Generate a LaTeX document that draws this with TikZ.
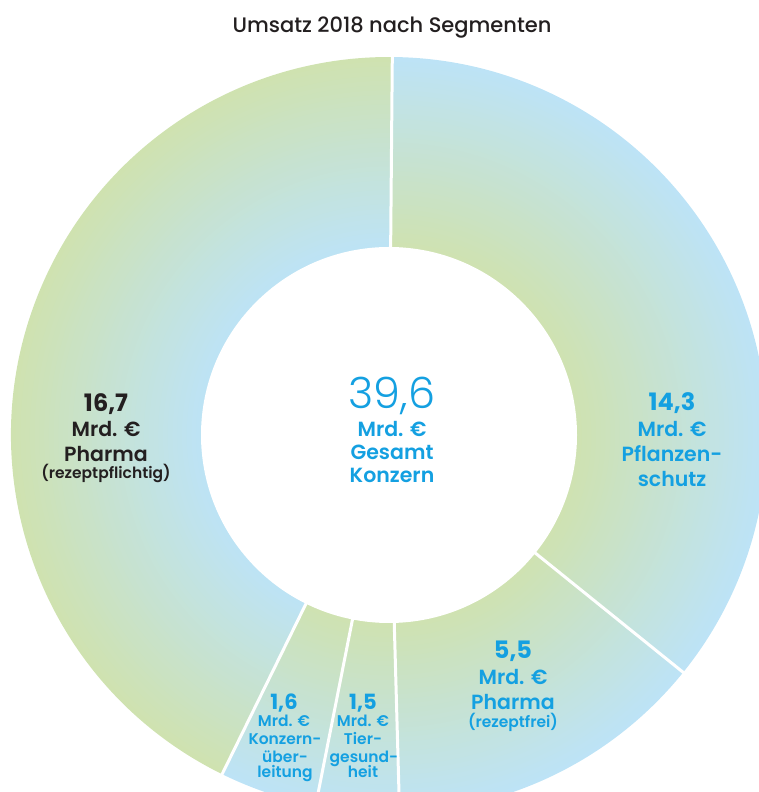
\documentclass[tikz,border=0pt]{standalone}
\usepackage{fontspec}
\usetikzlibrary{calc}
\setmainfont{Poppins}
\newfontfamily\pmed{Poppins Medium}
\newfontfamily\psemi{Poppins SemiBold}
\newfontfamily\plight{Poppins Light}
\definecolor{gr}{RGB}{207,226,176}
\definecolor{bl}{RGB}{189,227,246}
\definecolor{tblue}{RGB}{20,160,225}
\definecolor{tdark}{RGB}{35,31,32}
\begin{document}
\begin{tikzpicture}[x=1pt,y=1pt,
  t/.style={anchor=base,inner sep=0pt,text=tblue},
  title/.style={t,text=tdark,font=\pmed\fontsize{21}{24}\selectfont},
  big/.style={t,font=\plight\fontsize{43}{48}\selectfont},
  num/.style={t,font=\bfseries\fontsize{24}{28}\selectfont},
  txt/.style={t,font=\psemi\fontsize{20.5}{25}\selectfont},
  sml/.style={t,font=\psemi\fontsize{15.5}{17}\selectfont},
  snum/.style={t,font=\bfseries\fontsize{21}{25}\selectfont},
  stxt/.style={t,font=\psemi\fontsize{15.5}{19}\selectfont},
  dark/.style={text=tdark},
  sep/.style={draw=white,line width=3pt}]
\useasboundingbox (0,0) rectangle (759,792);
\clip (0,0) rectangle (759,792);
\coordinate (C) at (389,357);
% segments with radial gradient bands
\foreach \a/\b/\inv in {89.5/-38.9/0, -38.9/-88.4/0, -88.4/-101.2/0, -101.2/-116.2/0, -116.2/-270.5/1}{
  \foreach \k [evaluate=\k as \r using 378-4.75*\k,
               evaluate=\k as \p using {(\inv==0)*2.5*\k+(\inv==1)*(100-2.5*\k)}] in {0,...,40}{
    \fill[gr!\p!bl] (C) -- ++(\a:\r) arc[start angle=\a,end angle=\b,radius=\r] -- cycle;
  }
}
\fill[white] (C) circle[radius=188];
\foreach \a in {89.5,-38.9,-88.4,-101.2,-116.2}{
  \draw[sep] ($(C)+(\a:186)$) -- ($(C)+(\a:382)$);
}
% title
\node[title] (ttl) at (392,759) {Umsatz 2018 nach Segmenten};
% centre
\node[big] (c1) at (392,383) {39,6};
\node[txt] (c2) at (392,355) {Mrd. €};
\node[txt] (c3) at (392,332) {Gesamt};
\node[txt] (c4) at (392,309) {Konzern};
% Pflanzenschutz
\node[num] (p1) at (672,381) {14,3};
\node[txt] (p2) at (672,355) {Mrd. €};
\node[txt] (p3) at (672,330) {Pflanzen-};
\node[txt] (p4) at (672,305) {schutz};
% Pharma rezeptpflichtig
\node[num,dark] (r1) at (106,380) {16,7};
\node[txt,dark] (r2) at (106,355) {Mrd. €};
\node[txt,dark] (r3) at (106,330) {Pharma};
\node[sml,dark] (r4) at (106,313) {(rezeptpflichtig)};
% Pharma rezeptfrei
\node[num] (f1) at (513,133) {5,5};
\node[txt] (f2) at (513,107) {Mrd. €};
\node[txt] (f3) at (513,82) {Pharma};
\node[sml] (f4) at (513,64) {(rezeptfrei)};
% Konzernueberleitung
\node[snum] (k1) at (284,82) {1,6};
\node[stxt] (k2) at (284,65) {Mrd. €};
\node[stxt] (k3) at (285,47) {Konzern-};
\node[stxt] (k4) at (285,29) {über-};
\node[stxt] (k5) at (285,14) {leitung};
% Tiergesundheit
\node[snum] (g1) at (363,82) {1,5};
\node[stxt] (g2) at (363,65) {Mrd. €};
\node[stxt] (g3) at (363,47) {Tier-};
\node[stxt] (g4) at (364,29) {gesund-};
\node[stxt] (g5) at (363,14) {heit};
\end{tikzpicture}
\end{document}
